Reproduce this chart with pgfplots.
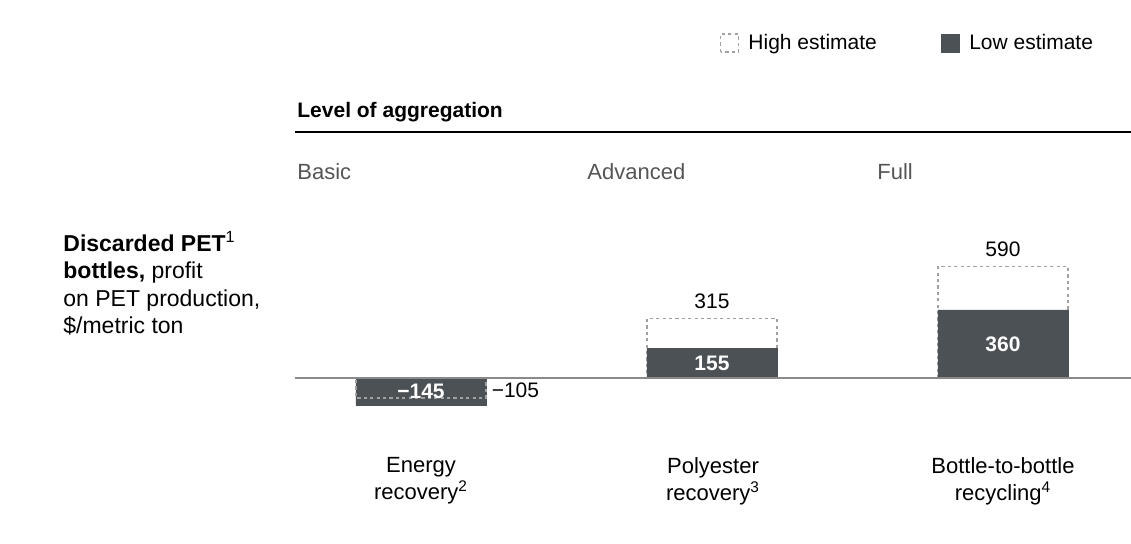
\documentclass[border=0pt]{standalone}
\usepackage{pgfplots}
\pgfplotsset{compat=1.18}
\usepackage{fontspec}
\setmainfont{Liberation Sans}
\definecolor{barDark}{HTML}{4B5154}
\definecolor{dashGray}{HTML}{A0A0A0}
\definecolor{baseGray}{HTML}{8A8A8A}
\definecolor{groupGray}{HTML}{555555}

\begin{document}
\begin{tikzpicture}
\useasboundingbox (0pt,0pt) rectangle (565.5pt,272pt);
\fontsize{10.5}{13.75}\selectfont

% header: level of aggregation
\node[anchor=west, font=\bfseries, inner sep=0pt] at (148.5pt,216pt) {Level of aggregation};
\draw[black, line width=0.8pt] (147.5pt,206pt) -- (565.5pt,206pt);
\begin{scope}[every node/.style={anchor=west, text=groupGray, inner sep=0pt,
    font=\fontsize{11}{13}\selectfont}]
\node at (148.5pt,186pt) {Basic};
\node at (293.5pt,186pt) {Advanced};
\node at (438.5pt,186pt) {Full};
\end{scope}

% row description
\node[anchor=north west, align=left, inner sep=0pt, font=\fontsize{11.5}{13.75}\selectfont]
  at (31.5pt,156.5pt)
  {\textbf{Discarded PET}\textsuperscript{1}\\
   \textbf{bottles,} profit\\
   on PET production,\\
   \$/metric ton};

\begin{axis}[
  at={(147.5pt,66.95pt)}, anchor=south west,
  scale only axis, width=418pt, height=72.75pt,
  xmin=-0.433, xmax=2.44, ymin=-170, ymax=600,
  hide axis, clip=false,
  ybar, bar width=65pt, bar shift=0pt,
  legend columns=2,
  legend style={draw=none, fill=none, at={(0.967,2.523)}, anchor=east,
    font=\fontsize{10.5}{12}\selectfont,
    /tikz/every even column/.append style={column sep=30pt}},
  legend image code/.code={\draw[#1] (0pt,-4.5pt) rectangle (9pt,4.5pt);
    \path[draw=none, fill=none] (0pt,0pt) -- (12pt,0pt);},
]
% high estimate (dashed outline)
\addplot[draw=dashGray, fill=none, line width=0.7pt, dash pattern=on 1.6pt off 1.6pt]
  coordinates {(0,-105) (1,315) (2,590)};
\addlegendentry{High estimate}
% low estimate (filled)
\addplot[draw=barDark, fill=barDark]
  coordinates {(0,-145) (1,155) (2,360)};
\addlegendentry{Low estimate}
% high estimate for the negative case, shown over the filled bar
\addplot[forget plot, draw=dashGray, fill=none, line width=0.7pt, dash pattern=on 1.6pt off 1.6pt]
  coordinates {(0,-105)};

\draw[baseGray, line width=0.8pt] (axis cs:-0.433,0) -- (axis cs:2.44,0);

% value labels
\node[text=white, font=\bfseries] at (axis cs:0,-70) {\textminus145};
\node[anchor=west, inner sep=1pt] at (axis cs:0.235,-65) {\textminus105};
\node[text=white, font=\bfseries] at (axis cs:1,77.5) {155};
\node[text=white, font=\bfseries] at (axis cs:2,180) {360};
\node[anchor=south, inner sep=2pt] at (axis cs:1,345) {315};
\node[anchor=south, inner sep=2pt] at (axis cs:2,620) {590};
\end{axis}

% category labels
\begin{scope}[every node/.style={align=center, inner sep=0pt,
    font=\fontsize{11}{13.5}\selectfont}]
\node at (210.5pt,31.5pt) {Energy\\recovery\textsuperscript{2}};
\node at (356.5pt,31.5pt) {Polyester\\recovery\textsuperscript{3}};
\node at (501.5pt,31.5pt) {Bottle-to-bottle\\recycling\textsuperscript{4}};
\end{scope}
\end{tikzpicture}
\end{document}
